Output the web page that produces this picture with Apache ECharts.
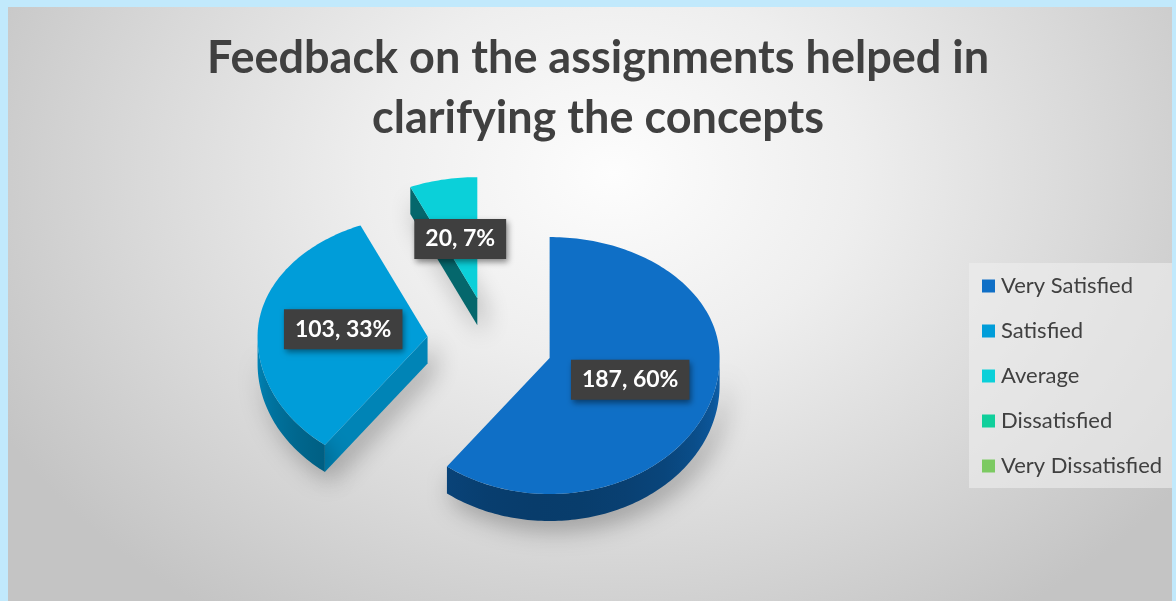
<!DOCTYPE html>
<html>
<head>
<meta charset="utf-8">
<title>Feedback on the assignments</title>
<script src="https://cdn.jsdelivr.net/npm/echarts@6/dist/echarts.min.js"></script>
<style>
  html, body { margin: 0; padding: 0; width: 1176px; height: 601px; overflow: hidden; background: #c1e9fc; }
  #frame {
    position: absolute; left: 8px; top: 7px; width: 1164px; height: 594px;
    background: radial-gradient(ellipse 60% 90% at 52% 28%, #fdfdfd 0%, #eeeeee 35%, #d9d9d9 68%, #c4c4c4 100%);
  }
  #chart { width: 100%; height: 100%; }
</style>
</head>
<body>
<div id="frame"><div id="chart"></div></div>
<script>
// Survey responses
const categories = ['Very Satisfied', 'Satisfied', 'Average', 'Dissatisfied', 'Very Dissatisfied'];
const responses = [187, 103, 20, 0, 0];
const titleText = 'Feedback on the assignments helped in\nclarifying the concepts';

// Office "Blue" accent palette
const palette = ['#0F6FC6', '#009DD9', '#0BD0D9', '#10CF9B', '#7CCA62'];

// Tilted, exploded pie geometry (pixels inside the chart)
const PIE = { cx: 482, cy: 335, rx: 170, ryBack: 121, ryFront: 136, depth: 27, explode: 0.37 };

const total = responses.reduce((a, b) => a + b, 0);
const TAU = Math.PI * 2;

// whole percentages that add up to 100 (largest remainder)
const percents = (function () {
  const raw = responses.map(v => v / total * 100);
  const out = raw.map(Math.floor);
  let left = 100 - out.reduce((a, b) => a + b, 0);
  raw.map((r, i) => [r - Math.floor(r), i])
    .sort((a, b) => b[0] - a[0])
    .forEach(([rem, i]) => { if (left > 0 && responses[i] > 0) { out[i]++; left--; } });
  return out;
})();

function shade(hex, f) {
  const n = parseInt(hex.slice(1), 16);
  const r = Math.min(255, Math.round(((n >> 16) & 255) * f));
  const g = Math.min(255, Math.round(((n >> 8) & 255) * f));
  const b = Math.min(255, Math.round((n & 255) * f));
  return 'rgb(' + r + ',' + g + ',' + b + ')';
}

// angle measured clockwise from 12 o'clock; f = fraction of radius; z = drop below top face
function proj(ox, oy, th, f, z) {
  const c = Math.cos(th);
  const ry = c >= 0 ? PIE.ryBack : PIE.ryFront;
  return [ox + PIE.rx * f * Math.sin(th), oy - ry * f * c + (z || 0)];
}

function arc(ox, oy, t0, t1, z) {
  const pts = [];
  const n = Math.max(2, Math.ceil((t1 - t0) / 0.02));
  for (let k = 0; k <= n; k++) pts.push(proj(ox, oy, t0 + (t1 - t0) * k / n, 1, z));
  return pts;
}

function sliceAngles(i) {
  let before = 0;
  for (let k = 0; k < i; k++) before += responses[k];
  const a0 = TAU * before / total;
  const a1 = a0 + TAU * responses[i] / total;
  return [a0, a1];
}

// lighting: flat cut faces lit from the right, curved wall darkest at the front
const cutLight = normal => 0.68 + 0.2 * Math.sin(normal);
const wallLight = th => 0.86 + 0.32 * Math.cos(th);

function renderSlice(params, api) {
  const i = params.seriesIndex;
  const value = api.value(0);
  if (!value) return null;
  const [a0, a1] = sliceAngles(i);
  const mid = (a0 + a1) / 2;
  const base = palette[i];
  const d = PIE.depth;
  const [vx, vy] = proj(PIE.cx, PIE.cy, mid, PIE.explode, 0);
  const children = [];
  const shadow = { shadowBlur: 24, shadowColor: 'rgba(0,0,0,0.3)', shadowOffsetX: 6, shadowOffsetY: 9 };

  // radial cut faces that turn toward the viewer
  [[a0, a0 - Math.PI / 2], [a1, a1 + Math.PI / 2]].forEach(([t, normal]) => {
    if (Math.cos(normal) < -0.01) {
      const p = proj(vx, vy, t, 1, 0);
      children.push({
        type: 'polygon',
        shape: { points: [[vx, vy], p, [p[0], p[1] + d], [vx, vy + d]] },
        style: Object.assign({ fill: shade(base, cutLight(normal)) }, shadow),
        z2: 1
      });
    }
  });

  // curved outer wall on the front half
  const w0 = Math.max(a0, Math.PI / 2), w1 = Math.min(a1, Math.PI * 1.5);
  if (w1 > w0) {
    const top = arc(vx, vy, w0, w1, 0);
    const bottom = arc(vx, vy, w0, w1, d).reverse();
    const xs = top.map(p => p[0]);
    const xmin = Math.min.apply(null, xs), xmax = Math.max.apply(null, xs);
    const stops = [];
    for (let k = 0; k <= 8; k++) {
      const t = w0 + (w1 - w0) * k / 8;
      const x = vx + PIE.rx * Math.sin(t);
      stops.push({ offset: Math.max(0, Math.min(1, (x - xmin) / (xmax - xmin || 1))), color: shade(base, wallLight(t)) });
    }
    stops.sort((p, q) => p.offset - q.offset);
    children.push({
      type: 'polygon',
      shape: { points: top.concat(bottom) },
      style: Object.assign({ fill: new echarts.graphic.LinearGradient(0, 0, 1, 0, stops) }, shadow),
      z2: 2
    });
  }

  // top face
  children.push({
    type: 'polygon',
    shape: { points: [[vx, vy]].concat(arc(vx, vy, a0, a1, 0)) },
    style: { fill: base },
    z2: 3
  });

  // value label
  const lp = proj(vx, vy, mid, 0.5, 0);
  children.push({
    type: 'text',
    x: lp[0], y: lp[1],
    style: {
      text: value + ', ' + percents[i] + '%',
      fill: '#ffffff',
      font: 'bold 23px Lato, "Open Sans", sans-serif',
      align: 'center', verticalAlign: 'middle',
      backgroundColor: '#3f3f3f',
      padding: [9, 11, 8, 11],
      shadowBlur: 6, shadowColor: 'rgba(0,0,0,0.45)', shadowOffsetX: 2, shadowOffsetY: 3
    },
    z2: 10
  });

  return { type: 'group', children: children };
}

const chart = echarts.init(document.getElementById('chart'), null, { renderer: 'canvas' });

const series = categories.map((name, i) => {
  const [a0, a1] = total ? sliceAngles(i) : [0, 0];
  return {
    type: 'custom',
    name: name,
    coordinateSystem: 'none',
    renderItem: renderSlice,
    data: [[responses[i]]],
    itemStyle: { color: palette[i] },
    z: 2 + Math.round(-Math.cos((a0 + a1) / 2) * 3 + 3),
    silent: true,
    animation: false
  };
});

chart.setOption({
  backgroundColor: 'transparent',
  animation: false,
  title: {
    text: titleText,
    left: 585,
    top: 16,
    textAlign: 'center',
    textStyle: {
      fontFamily: 'Lato, "Open Sans", sans-serif',
      fontWeight: 'bold',
      fontSize: 45,
      lineHeight: 60,
      color: '#404040'
    }
  },
  legend: {
    orient: 'vertical',
    left: 961,
    top: 256,
    data: categories,
    icon: 'rect',
    itemWidth: 13,
    itemHeight: 13,
    itemGap: 23,
    padding: [12, 11, 11, 13],
    backgroundColor: 'rgba(238,238,238,0.6)',
    selectedMode: false,
    textStyle: {
      fontFamily: 'Lato, "Open Sans", sans-serif',
      fontSize: 22,
      lineHeight: 20,
      color: '#404040',
      padding: [0, 0, 0, 1]
    }
  },
  series: series
});
</script>
</body>
</html>
